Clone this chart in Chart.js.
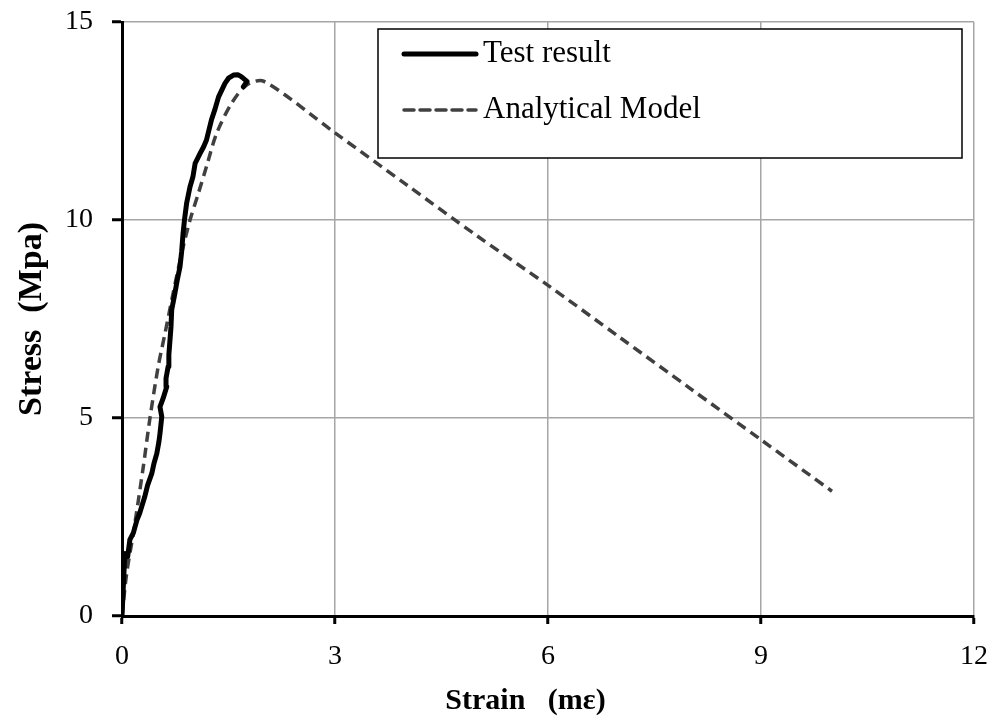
<!DOCTYPE html>
<html lang="en">
  <head>
    <meta charset="UTF-8" />
    <title>Stress-Strain</title>
    <script src="https://cdn.jsdelivr.net/npm/chart.js"></script>
    <style>
      html, body { margin: 0; padding: 0; background: #fff; }
      #wrap { width: 995px; height: 719px; }
    </style>
  </head>
  <body>
    <div id="wrap"><canvas id="stressChart" width="995" height="719"></canvas></div>
    <script>
      // Test result
      const testStrain = [0, 0.02, 0.04, 0.08, 0.11, 0.16, 0.21, 0.25, 0.32, 0.36, 0.42, 0.45, 0.49, 0.52, 0.535, 0.56, 0.535, 0.58, 0.63, 0.62, 0.65, 0.66, 0.676, 0.69, 0.7, 0.74, 0.78, 0.817, 0.84, 0.86, 0.88, 0.91, 0.958, 1.0, 1.03, 1.1, 1.15, 1.19, 1.26, 1.31, 1.36, 1.45, 1.5, 1.57, 1.63, 1.68, 1.76, 1.71];
      const testStress = [0, 0.8, 1.58, 1.5, 1.92, 2.1, 2.42, 2.6, 3.01, 3.3, 3.6, 3.85, 4.1, 4.4, 4.61, 5.03, 5.28, 5.5, 5.79, 6.0, 6.3, 6.6, 6.97, 7.3, 7.73, 8.1, 8.5, 8.82, 9.2, 9.66, 10.0, 10.42, 10.84, 11.1, 11.43, 11.68, 11.85, 12.02, 12.53, 12.8, 13.11, 13.45, 13.58, 13.66, 13.67, 13.62, 13.5, 13.37];

      // Analytical model
      const modelStrain = [0, 0.066, 0.16, 0.3, 0.394, 0.51, 0.606, 0.72, 0.84, 0.958, 1.075, 1.19, 1.333, 1.545, 1.756, 2.0, 3, 4, 5, 6, 7, 8, 9, 10];
      const modelStress = [0, 1.08, 2.09, 3.77, 5.0, 6.3, 7.14, 8.15, 9.16, 10.0, 10.67, 11.35, 12.19, 12.95, 13.41, 13.5, 12.2, 10.9, 9.6, 8.35, 7.05, 5.75, 4.45, 3.15];

      const xTicks = [0, 3, 6, 9, 12];
      const yTicks = [0, 5, 10, 15];

      const toPoints = (xs, ys) => xs.map((x, i) => ({ x: x, y: ys[i] }));

      // legend drawn as a white box inside the plot
      const boxLegend = {
        id: "boxLegend",
        afterDatasetsDraw(chart) {
          const ctx = chart.ctx;
          const left = 378, top = 29, right = 962, bottom = 158;
          ctx.save();
          ctx.fillStyle = "#fff";
          ctx.fillRect(left, top, right - left, bottom - top);
          ctx.strokeStyle = "#000";
          ctx.lineWidth = 1.5;
          ctx.strokeRect(left, top, right - left, bottom - top);
          const rows = [54, 110];
          chart.data.datasets.forEach((ds, i) => {
            ctx.beginPath();
            ctx.strokeStyle = ds.borderColor;
            ctx.lineWidth = ds.borderWidth;
            ctx.lineCap = "round";
            ctx.setLineDash(ds.borderDash || []);
            ctx.moveTo(404, rows[i]);
            ctx.lineTo(476, rows[i]);
            ctx.stroke();
            ctx.setLineDash([]);
            ctx.fillStyle = "#000";
            ctx.font = "31px 'Liberation Serif'";
            ctx.textBaseline = "middle";
            ctx.fillText(ds.label, 483, rows[i]);
          });
          ctx.restore();
        },
      };

      const ctx = document.getElementById("stressChart").getContext("2d");
      new Chart(ctx, {
        type: "scatter",
        data: {
          datasets: [
            {
              label: "Test result",
              data: toPoints(testStrain, testStress),
              showLine: true,
              borderColor: "#000",
              borderWidth: 5,
              borderJoinStyle: "round",
              borderCapStyle: "round",
              pointRadius: 0,
              tension: 0,
            },
            {
              label: "Analytical Model",
              data: toPoints(modelStrain, modelStress),
              showLine: true,
              borderColor: "#404040",
              borderWidth: 3.5,
              borderDash: [10, 6],
              pointRadius: 0,
              tension: 0.3,
            },
          ],
        },
        options: {
          responsive: false,
          animation: false,
          layout: { padding: { left: 0, top: 22, right: 21, bottom: 0 } },
          plugins: { legend: { display: false }, tooltip: { enabled: false } },
          scales: {
            x: {
              type: "linear",
              min: 0,
              max: 12,
              afterBuildTicks: (s) => { s.ticks = xTicks.map((v) => ({ value: v })); },
              afterFit: (s) => {
                s.height = 103;
                s.paddingLeft = 0;
                s.paddingRight = 0;
              },
              grid: {
                color: (c) => (c.tick && c.tick.value === 0 ? "rgba(0,0,0,0)" : "#a6a6a6"),
                lineWidth: 1.5,
                tickColor: "#000",
                tickWidth: 3,
                tickLength: 8,
              },
              border: { color: "#000", width: 3 },
              ticks: {
                color: "#000",
                padding: 16,
                font: { family: "'Liberation Serif'", size: 28 },
              },
              title: {
                display: true,
                text: "Strain   (mε)      ",
                color: "#000",
                padding: { top: 0, bottom: 0 },
                font: { family: "'Liberation Serif'", size: 30, weight: "bold" },
              },
            },
            y: {
              type: "linear",
              min: 0,
              max: 15,
              afterBuildTicks: (s) => { s.ticks = yTicks.map((v) => ({ value: v })); },
              afterFit: (s) => {
                s.width = 122;
                s.paddingTop = 0;
                s.paddingBottom = 0;
              },
              grid: {
                color: (c) => (c.tick && c.tick.value === 0 ? "rgba(0,0,0,0)" : "#a6a6a6"),
                lineWidth: 1.5,
                tickColor: "#000",
                tickWidth: 3,
                tickLength: 10,
              },
              border: { color: "#000", width: 3 },
              ticks: {
                color: "#000",
                padding: 19,
                font: { family: "'Liberation Serif'", size: 28 },
              },
              title: {
                display: true,
                text: "Stress  (Mpa)",
                color: "#000",
                padding: { top: 12, bottom: 0 },
                font: { family: "'Liberation Serif'", size: 34, weight: "bold" },
              },
            },
          },
        },
        plugins: [boxLegend],
      });
    </script>
  </body>
</html>
